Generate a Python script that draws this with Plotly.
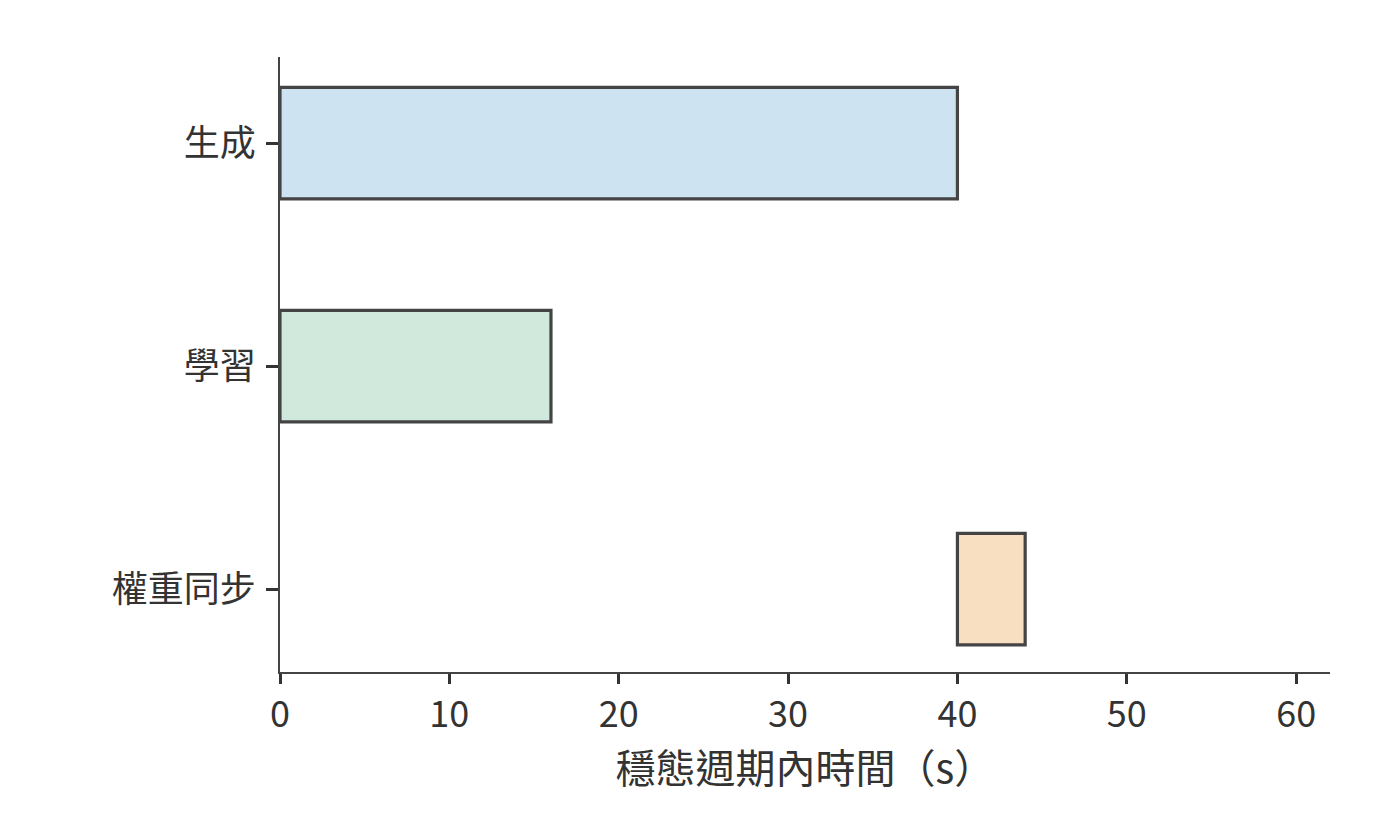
import plotly.graph_objects as go

categories = ["生成", "學習", "權重同步"]
starts = [0, 0, 40]
durations = [40, 16, 4]
colors = ["#cde3f2", "#d1e9dc", "#f8dfc2"]
x_ticks = [0, 10, 20, 30, 40, 50, 60]
x_title = "穩態週期內時間（s）"

FONT = "Noto Sans CJK TC"

fig = go.Figure(
    go.Bar(
        y=categories,
        x=durations,
        base=starts,
        orientation="h",
        width=0.5,
        marker=dict(color=colors, line=dict(color="#444444", width=3.2)),
        showlegend=False,
    )
)

fig.update_layout(
    width=1400,
    height=840,
    margin=dict(l=272, r=78, t=49, b=176),
    paper_bgcolor="white",
    plot_bgcolor="white",
    font=dict(family=FONT, color="#333333", size=36),
)

fig.update_xaxes(
    range=[0, 62],
    tickvals=x_ticks,
    ticktext=[str(v) for v in x_ticks],
    showgrid=False,
    zeroline=False,
    showline=True,
    linecolor="#444444",
    linewidth=2,
    ticks="outside",
    ticklen=10,
    tickwidth=3,
    tickcolor="#333333",
    tickfont=dict(family=FONT, size=36, color="#333333"),
    title=dict(text=x_title, font=dict(family=FONT, size=40, color="#333333"), standoff=4),
)

fig.update_yaxes(
    categoryorder="array",
    categoryarray=categories,
    range=[2.372, -0.386],
    showgrid=False,
    zeroline=False,
    showline=True,
    linecolor="#444444",
    linewidth=2,
    ticks="outside",
    ticklen=12,
    tickwidth=3,
    tickcolor="#333333",
    ticklabelstandoff=3,
    tickfont=dict(family=FONT, size=36, color="#333333"),
)

fig.write_html("out.html")
